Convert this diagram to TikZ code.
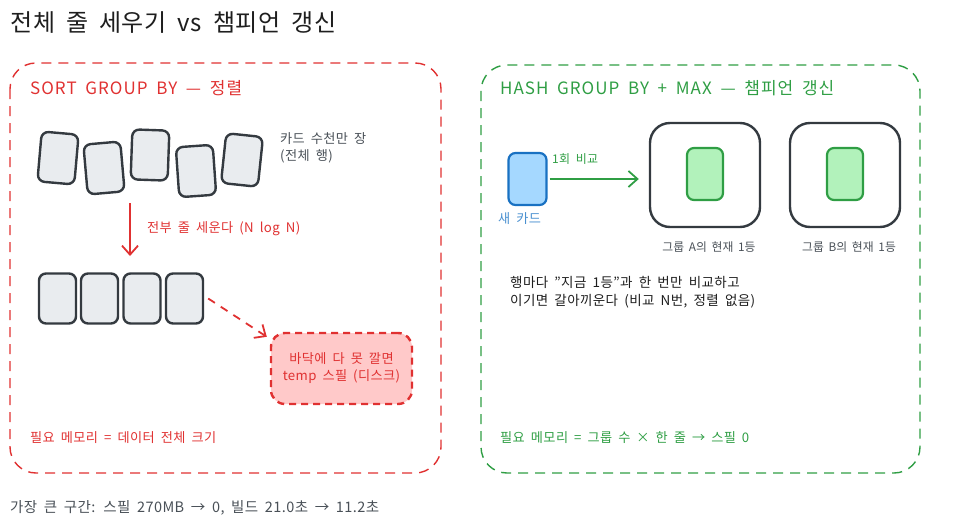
\documentclass[tikz,border=0pt]{standalone}
\usepackage{fontspec}
\setmainfont{Noto Sans CJK KR}[WordSpace=1.8, LetterSpace=3]
\usetikzlibrary{arrows.meta,positioning}

\definecolor{inkc}{HTML}{1E1E1E}
\definecolor{grayc}{HTML}{495057}
\definecolor{redc}{HTML}{E03131}
\definecolor{greenc}{HTML}{2F9E44}
\definecolor{cardline}{HTML}{343A40}
\definecolor{cardfill}{HTML}{E9ECEF}
\definecolor{spillfill}{HTML}{FFC9C9}
\definecolor{bluefill}{HTML}{A5D8FF}
\definecolor{blueline}{HTML}{1971C2}
\definecolor{bluetxt}{HTML}{4A90D0}
\definecolor{champfill}{HTML}{B2F2BB}

\begin{document}
\begin{tikzpicture}[
    x=1pt, y=-1pt,
    every node/.style={font=\fontsize{13.2}{17}\selectfont, inner sep=0pt},
    panel/.style={dash pattern=on 10pt off 7pt, line width=1.4pt, rounded corners=26pt},
    heading/.style={anchor=base west, font=\fontsize{17}{20}\selectfont\addfontfeature{LetterSpace=6}},
    card/.style={draw=cardline, fill=cardfill, line width=2.4pt, rounded corners=7pt,
        minimum width=37pt, minimum height=50pt},
    group/.style={draw=cardline, line width=2.4pt, rounded corners=20pt,
        minimum width=110pt, minimum height=104pt},
    champ/.style={draw=greenc, fill=champfill, line width=2.2pt, rounded corners=7pt,
        minimum width=36pt, minimum height=52pt},
    note/.style={anchor=base west, align=left},
    grouplabel/.style={anchor=base, text=grayc, font=\fontsize{11.8}{14}\selectfont\addfontfeature{LetterSpace=0}},
    arrow/.style={-{Straight Barb[length=9pt,width=16pt]}, line width=1.8pt}
]
\useasboundingbox (0,0) rectangle (972,530);

% title
\node[anchor=base west, text=inkc, font=\fontsize{24}{28}\selectfont] (title) at (10,31) {전체 줄 세우기 vs 챔피언 갱신};

% left panel
\draw[panel, draw=redc] (10,63) rectangle (441,473);
\node[heading, text=redc] (sorthead) at (30,94) {SORT GROUP BY — 정렬};

\node[card, rotate=-5] (raw1) at (58,158) {};
\node[card, rotate=5]  (raw2) at (104,168) {};
\node[card, rotate=-2] (raw3) at (150,155) {};
\node[card, rotate=4]  (raw4) at (196,171) {};
\node[card, rotate=-6] (raw5) at (242,160) {};
\node[note, text=grayc] (rawlabel) at (280,160) {카드 수천만 장\\(전체 행)};

\coordinate (sortfrom) at (130,203);
\coordinate (sortto) at (130,256);
\draw[arrow, redc] (sortfrom) -- (sortto);
\node[anchor=base west, text=redc] (sortlabel) at (147,232) {전부 줄 세운다 (N log N)};

\foreach \i/\x in {1/57.5, 2/99.5, 3/142, 4/184.5}
    \node[card] (sorted\i) at (\x,298.5) {};

\node[draw=redc, fill=spillfill, line width=2.4pt, dash pattern=on 7pt off 5pt,
    rounded corners=14pt, minimum width=141pt, minimum height=71pt,
    text=redc, align=center] (spill) at (341.5,368.5) {바닥에 다 못 깔면\\temp 스필 (디스크)};
\draw[arrow, redc, dash pattern=on 8pt off 7pt] ([xshift=4pt]sorted4.east) -- ([xshift=-3pt,yshift=-5pt]spill.north west);

\node[anchor=base west, text=redc] (sortmem) at (30,442) {필요 메모리 = 데이터 전체 크기};

% right panel
\draw[panel, draw=greenc] (481,65) rectangle (920,473);
\node[heading, text=greenc] (hashhead) at (500,94) {HASH GROUP BY + MAX — 챔피언 갱신};

\node[draw=blueline, fill=bluefill, line width=2.2pt, rounded corners=7pt,
    minimum width=38pt, minimum height=52pt] (newcard) at (527.5,179) {};
\node[anchor=base west, text=bluetxt] (newlabel) at (498,223) {새 카드};

\node[group] (groupA) at (705,175) {};
\node[group] (groupB) at (845,175) {};
\node[champ] (champA) at (705,174) {};
\node[champ] (champB) at (845,174) {};
\node[grouplabel] (labelA) at (709,251) {그룹 A의 현재 1등};
\node[grouplabel] (labelB) at (849,251) {그룹 B의 현재 1등};

\draw[arrow, greenc] ([xshift=2pt]newcard.east) -- ([xshift=-10pt]groupA.west |- newcard.east);
\node[anchor=base west, text=greenc, font=\fontsize{12}{14}\selectfont] (cmplabel) at (552,163) {1회 비교};

\node[note, text=inkc, font=\fontsize{13.5}{18}\selectfont] (hashnote) at (510,305)
    {행마다 "지금 1등"과 한 번만 비교하고\\이기면 갈아끼운다 (비교 N번, 정렬 없음)};

\node[anchor=base west, text=greenc] (hashmem) at (500,442) {필요 메모리 = 그룹 수 × 한 줄 → 스필 0};

% footer
\node[anchor=base west, text=grayc, font=\fontsize{14.5}{16}\selectfont] (footer) at (10,512)
    {가장 큰 구간: 스필 270MB → 0, 빌드 21.0초 → 11.2초};
\end{tikzpicture}
\end{document}
